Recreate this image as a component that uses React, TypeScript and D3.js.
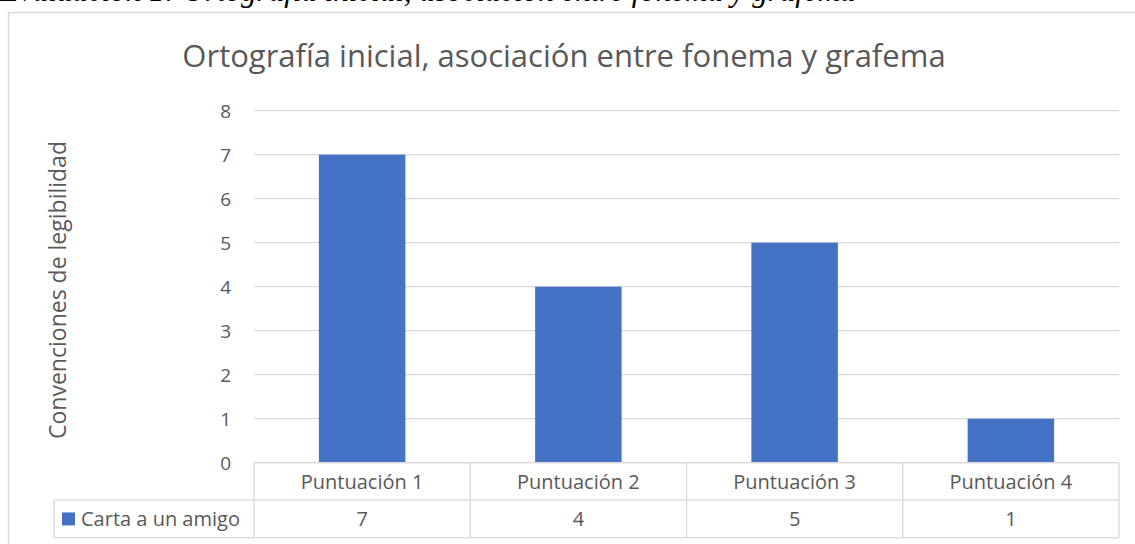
import * as d3 from 'd3';
import React from 'react';

const categories = ['Puntuación 1', 'Puntuación 2', 'Puntuación 3', 'Puntuación 4'];
const seriesName = 'Carta a un amigo';
const seriesValues = [7, 4, 5, 1];
const yTicks = [0, 1, 2, 3, 4, 5, 6, 7, 8];

const chartTitle = 'Ortografía inicial, asociación entre fonema y grafema';
const yLabel = 'Convenciones de legibilidad';
const captionText = 'Evaluación 1: Ortografía inicial, asociación entre fonema y grafema';

const W = 1135;
const H = 544;
const plot = { left: 254, right: 1119, top: 110.7, bottom: 462.7 };
const rowH = 37.5;
const legendLeft = 54;
const gray = '#595959';
const lineColor = '#d9d9d9';
const barColor = '#4472c4';
const font = "'Open Sans', 'Liberation Sans', sans-serif";

const App = () => {
  const x = d3.scaleBand<string>()
    .domain(categories)
    .range([plot.left, plot.right])
    .paddingInner(0.6)
    .paddingOuter(0.3);

  // columns of the data table under the plot
  const col = d3.scaleBand<string>()
    .domain(categories)
    .range([plot.left, plot.right])
    .padding(0);

  const y = d3.scaleLinear().domain([0, 8]).range([plot.bottom, plot.top]);

  const row1 = plot.bottom;
  const row2 = plot.bottom + rowH;
  const row3 = plot.bottom + rowH * 2;

  return (
    <svg width={W} height={H} style={{ position: 'absolute', left: 0, top: 0, background: '#fff' }}>
      {/* caption from the page above, mostly cut off */}
      <text x={0} y={1} fontFamily="'Liberation Serif', serif" fontStyle="italic" fontSize={31} fill="#000">
        {captionText}
      </text>

      <rect x={8.5} y={12.5} width={W} height={H} fill="#fff" stroke={lineColor} strokeWidth={1.5} />

      <text x={564} y={67} textAnchor="middle" fontFamily={font} fontSize={31} fill={gray}>
        {chartTitle}
      </text>

      <text
        transform={`translate(66, 290) rotate(-90)`}
        textAnchor="middle"
        fontFamily={font}
        fontSize={23}
        fill={gray}
      >
        {yLabel}
      </text>

      {/* gridlines */}
      {yTicks.map(t => (
        <line key={'g' + t} x1={plot.left} x2={plot.right} y1={y(t)} y2={y(t)} stroke={lineColor} strokeWidth={1.3} />
      ))}
      {yTicks.map(t => (
        <text key={'t' + t} x={231} y={y(t)} dy="0.36em" textAnchor="end" fontFamily={font} fontSize={19} fill={gray}>
          {t}
        </text>
      ))}

      {/* bars */}
      {categories.map((c, i) => (
        <rect
          key={c}
          x={x(c)}
          y={y(seriesValues[i])}
          width={x.bandwidth()}
          height={y(0) - y(seriesValues[i])}
          fill={barColor}
        />
      ))}

      {/* data table */}
      <g stroke={lineColor} strokeWidth={1.3} fill="none">
        <line x1={plot.left} x2={plot.right} y1={row1} y2={row1} />
        <line x1={legendLeft} x2={plot.right} y1={row2} y2={row2} />
        <line x1={legendLeft} x2={plot.right} y1={row3} y2={row3} />
        <line x1={legendLeft} x2={legendLeft} y1={row2} y2={row3} />
        {categories.map(c => (
          <line key={c} x1={col(c)} x2={col(c)} y1={row1} y2={row3} />
        ))}
        <line x1={plot.right} x2={plot.right} y1={row1} y2={row3} />
      </g>
      {categories.map((c, i) => (
        <g key={'tb' + c} fontFamily={font} fontSize={20} fill={gray} textAnchor="middle">
          <text x={(col(c) as number) + col.bandwidth() / 2} y={row1 + rowH / 2} dy="0.36em">{c}</text>
          <text x={(col(c) as number) + col.bandwidth() / 2} y={row2 + rowH / 2} dy="0.36em">{seriesValues[i]}</text>
        </g>
      ))}
      <rect x={62} y={row2 + rowH / 2 - 6.5} width={13} height={13} fill={barColor} />
      <text x={81} y={row2 + rowH / 2} dy="0.36em" fontFamily={font} fontSize={20} fill={gray}>
        {seriesName}
      </text>
    </svg>
  );
};

export default App;
